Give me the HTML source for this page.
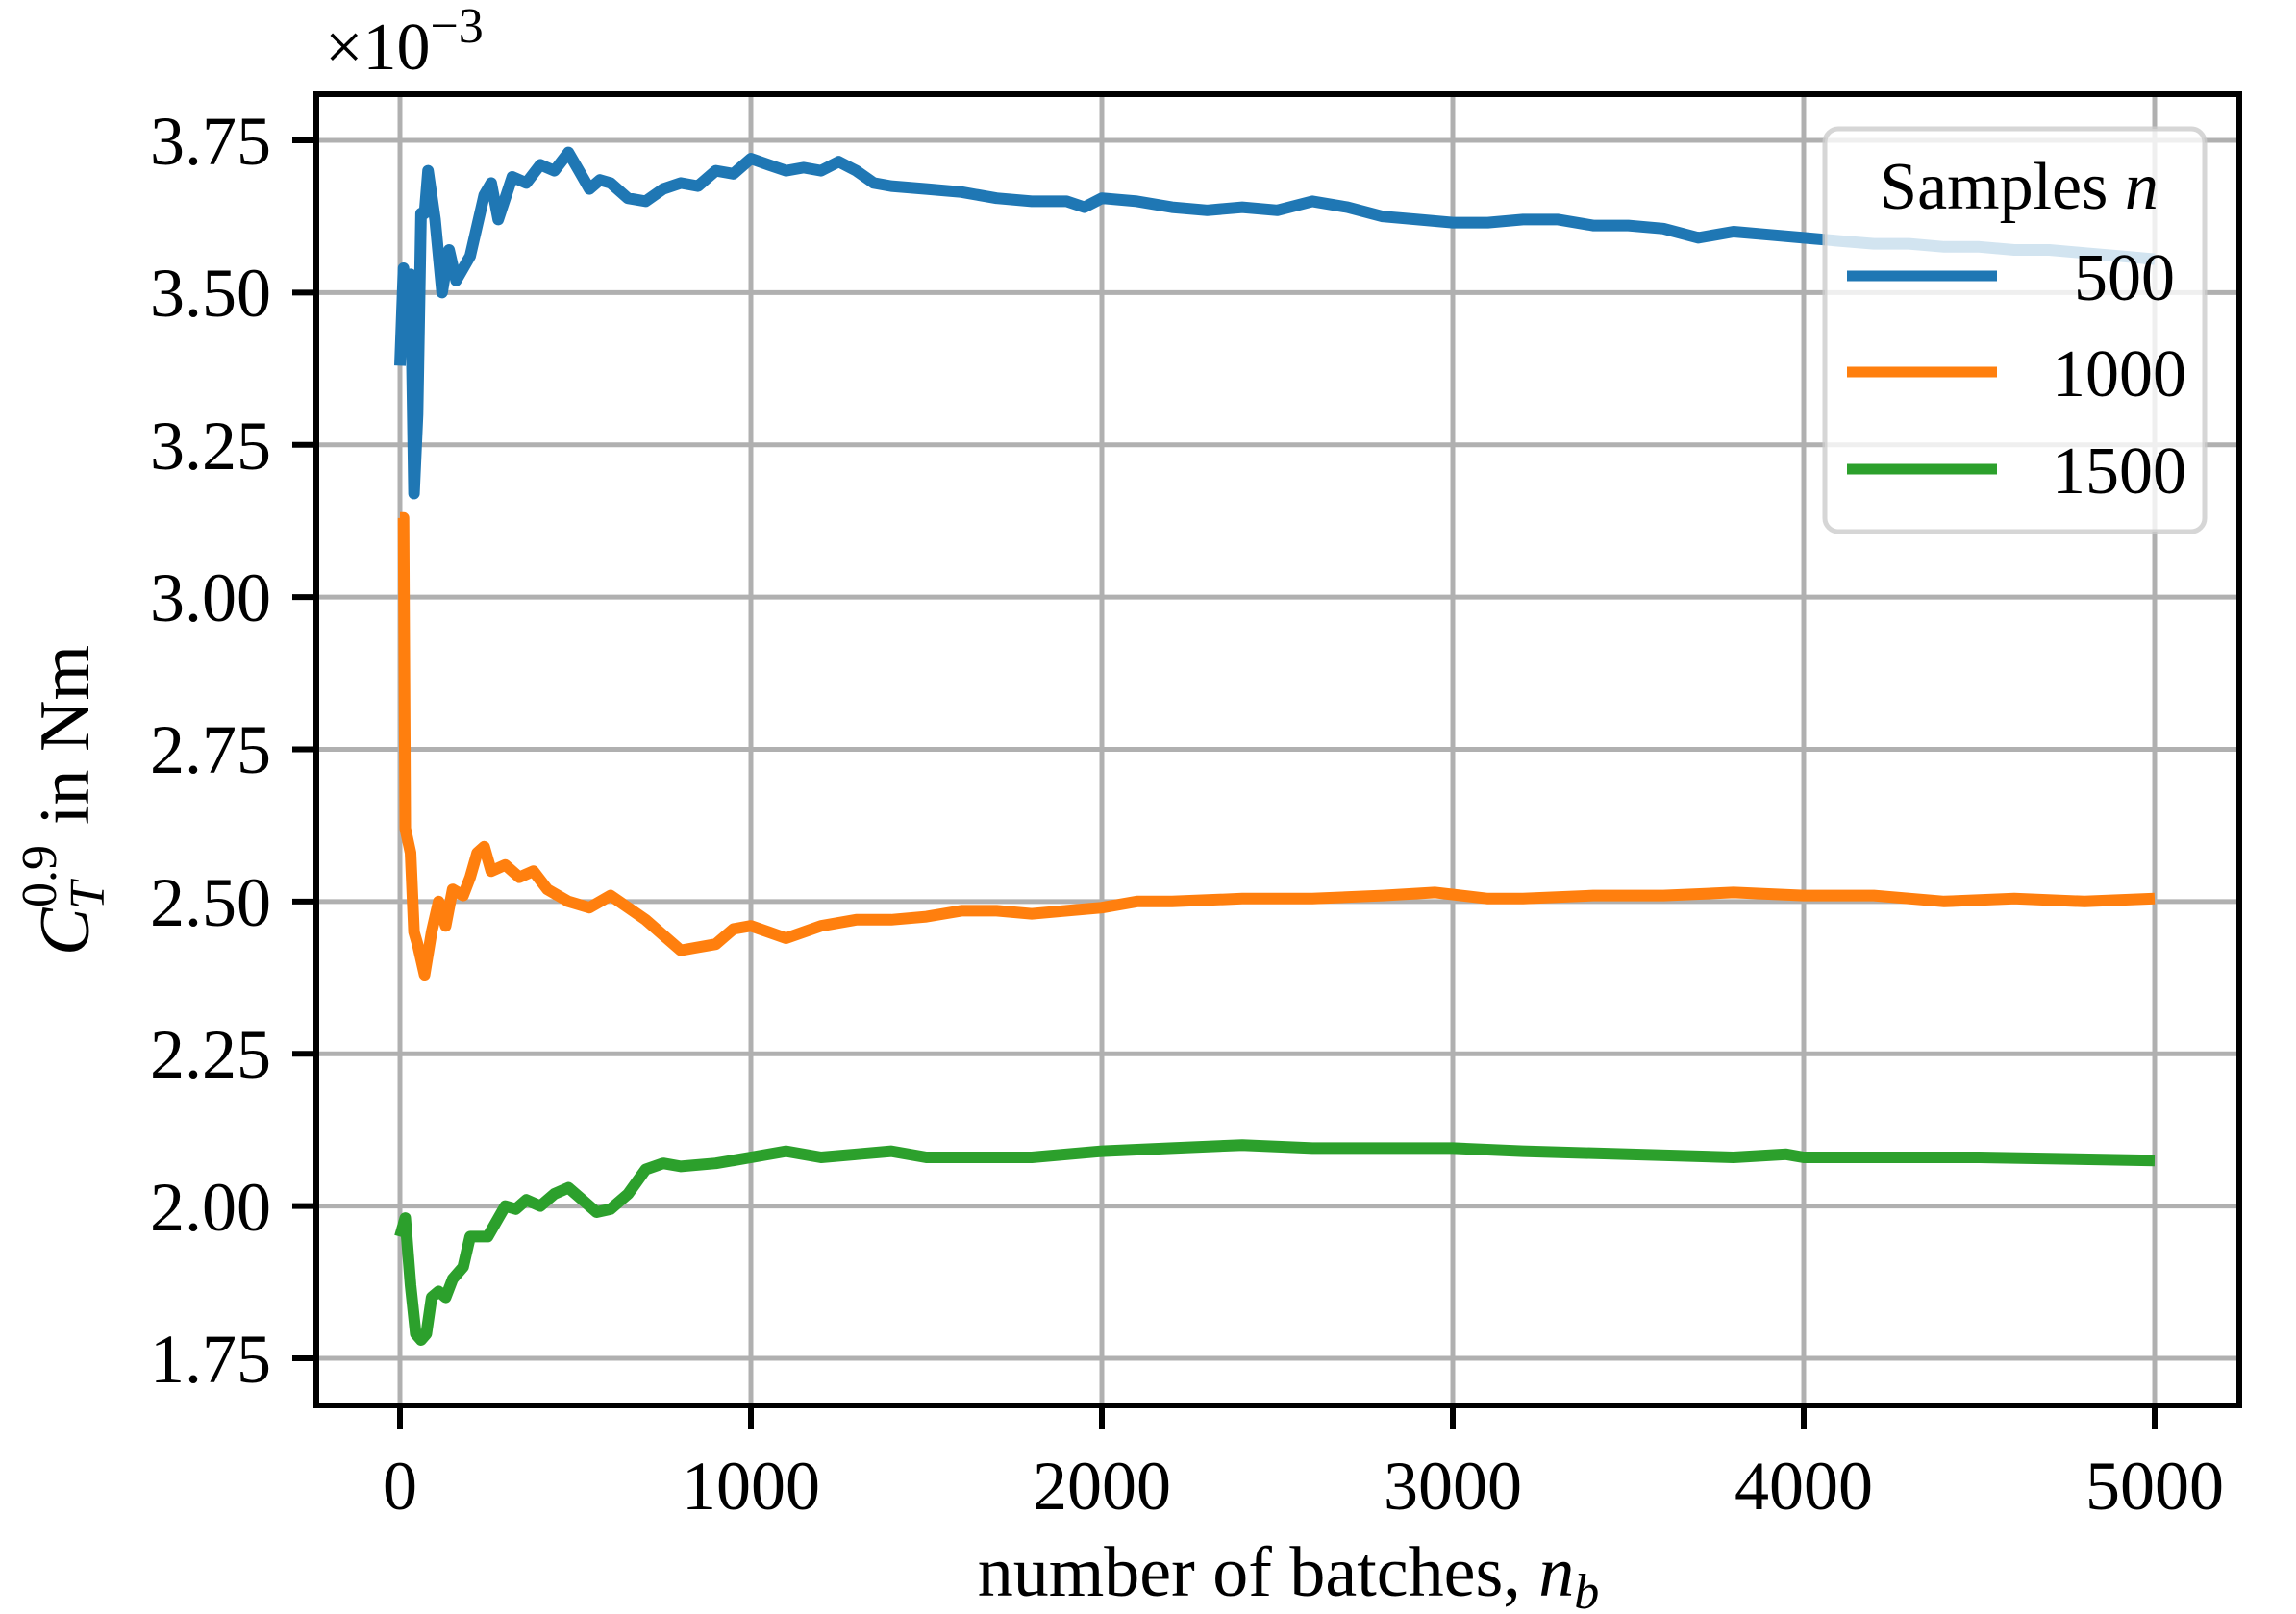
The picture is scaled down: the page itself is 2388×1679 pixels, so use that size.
<!DOCTYPE html>
<html><head><meta charset="utf-8"><style>html,body{margin:0;padding:0;background:#fff}svg{display:block}</style></head>
<body>
<svg width="2388" height="1679" viewBox="0 0 2388 1679" xmlns="http://www.w3.org/2000/svg" font-family="'Liberation Serif', serif">
<rect width="2388" height="1679" fill="#fff"/>
<g stroke="#b0b0b0" stroke-width="5">
<line x1="416" y1="98" x2="416" y2="1462"/><line x1="781" y1="98" x2="781" y2="1462"/><line x1="1146" y1="98" x2="1146" y2="1462"/><line x1="1511" y1="98" x2="1511" y2="1462"/><line x1="1876" y1="98" x2="1876" y2="1462"/><line x1="2241" y1="98" x2="2241" y2="1462"/>
<line x1="329" y1="146" x2="2329" y2="146"/><line x1="329" y1="304.4" x2="2329" y2="304.4"/><line x1="329" y1="462.8" x2="2329" y2="462.8"/><line x1="329" y1="621.1" x2="2329" y2="621.1"/><line x1="329" y1="779.5" x2="2329" y2="779.5"/><line x1="329" y1="937.9" x2="2329" y2="937.9"/><line x1="329" y1="1096.3" x2="2329" y2="1096.3"/><line x1="329" y1="1254.6" x2="2329" y2="1254.6"/><line x1="329" y1="1413" x2="2329" y2="1413"/>
</g>
<g fill="none" stroke-width="12" stroke-linejoin="round" transform="matrix(1 0 0 2 0 -146)">
<polyline vector-effect="non-scaling-stroke" stroke="#1f77b4" points="416,263.2 419.7,212.5 423.3,250.5 427,215.7 430.6,329.7 434.3,288.5 437.9,184 441.6,184 445.2,161.8 452.5,187.2 459.8,225.2 467.1,203 474.4,218.9 489,206.2 503.6,174.5 510.9,168.2 518.2,187.2 532.8,165 547.4,168.2 562,158.7 576.6,161.8 591.2,152.3 602.2,161.8 613.1,171.3 624,166.6 635,168.2 653,176.1 671.5,177.7 689.8,171.3 708,168.2 726,169.8 744.5,161.8 762.8,163.4 781,155.5 799.3,158.7 817.5,161.8 835.8,160.2 854,161.8 872.3,157.1 890.5,161.8 908.8,168.2 927,169.8 963.5,171.3 1000,172.9 1036.5,176.1 1073,177.7 1109.5,177.7 1127.8,180.8 1146,176.1 1182.5,177.7 1219,180.8 1255.5,182.4 1292,180.8 1328.5,182.4 1365,177.7 1401.5,180.8 1438,185.6 1474.5,187.2 1511,188.8 1547.5,188.8 1584,187.2 1620.5,187.2 1657,190.3 1693.5,190.3 1730,191.9 1766.5,196.7 1803,193.5 1839.5,195.1 1876,196.7 1912.5,198.3 1949,199.8 1985.5,199.8 2022,201.4 2058.5,201.4 2095,203 2131.5,203 2168,204.6 2204.5,206.2 2241,207.8"/>
<polyline vector-effect="non-scaling-stroke" stroke="#ff7f0e" points="416,342.4 419.7,342.4 421.5,503.9 427,516.6 430.6,557.8 434.3,564.1 441.6,580 448.9,557.8 456.2,541.9 463.5,554.6 470.8,535.6 481.7,538.8 489,529.3 496.3,516.6 503.6,513.4 510.9,526.1 525.5,522.9 540.1,529.3 554.7,526.1 569.3,535.6 591.2,541.9 613.1,545.1 635,538.8 653.3,545.1 671.5,551.4 689.8,559.4 708,567.3 726.3,565.7 744.5,564.1 762.8,556.2 781,554.6 799.3,557.8 817.5,561 854,554.6 890.5,551.4 927,551.4 963.5,549.8 1000,546.7 1036.5,546.7 1073,548.3 1109.5,546.7 1146,545.1 1182.5,541.9 1219,541.9 1292,540.4 1365,540.4 1438,538.8 1492.8,537.2 1547.5,540.4 1584,540.4 1657,538.8 1730,538.8 1803,537.2 1876,538.8 1949,538.8 2022,541.9 2095,540.4 2168,541.9 2241,540.4"/>
<polyline vector-effect="non-scaling-stroke" stroke="#2ca02c" points="416,716.2 421.5,706.6 427,741.5 432.4,766.8 437.9,770 443.4,766.8 448.9,747.8 456.2,744.7 463.5,747.8 470.8,738.3 481.7,732 489,716.2 507.3,716.2 525.5,700.3 536.5,701.9 547.4,697.1 562,700.3 576.6,694 591.2,690.8 605.8,697.1 620.4,703.5 635,701.9 653.3,694 671.5,681.3 689.8,678.1 708,679.7 744.5,678.1 781,675 817.5,671.8 854,675 890.5,673.4 927,671.8 963.5,675 1000,675 1073,675 1146,671.8 1219,670.2 1292,668.6 1365,670.2 1438,670.2 1511,670.2 1584,671.8 1693.5,673.4 1803,675 1857.8,673.4 1876,675 2058.5,675 2241,676.6"/>
</g>
<rect x="1898" y="134" width="395" height="419" rx="14" fill="#fff" fill-opacity="0.8" stroke="#cccccc" stroke-opacity="0.8" stroke-width="5"/>
<text x="2100" y="217" font-size="70" text-anchor="middle">Samples <tspan font-style="italic">n</tspan></text>
<line x1="1921" y1="287" x2="2077" y2="287" stroke="#1f77b4" stroke-width="11"/>
<line x1="1921" y1="387" x2="2077" y2="387" stroke="#ff7f0e" stroke-width="11"/>
<line x1="1921" y1="488" x2="2077" y2="488" stroke="#2ca02c" stroke-width="11"/>
<text x="2262" y="312" font-size="70" text-anchor="end">500</text>
<text x="2274" y="412" font-size="70" text-anchor="end">1000</text>
<text x="2274" y="513" font-size="70" text-anchor="end">1500</text>
<rect x="329" y="98" width="2000" height="1364" fill="none" stroke="#000" stroke-width="6"/>
<g stroke="#000" stroke-width="6">
<line x1="416" y1="1462" x2="416" y2="1487"/><line x1="781" y1="1462" x2="781" y2="1487"/><line x1="1146" y1="1462" x2="1146" y2="1487"/><line x1="1511" y1="1462" x2="1511" y2="1487"/><line x1="1876" y1="1462" x2="1876" y2="1487"/><line x1="2241" y1="1462" x2="2241" y2="1487"/>
<line x1="304" y1="146" x2="329" y2="146"/><line x1="304" y1="304.4" x2="329" y2="304.4"/><line x1="304" y1="462.8" x2="329" y2="462.8"/><line x1="304" y1="621.1" x2="329" y2="621.1"/><line x1="304" y1="779.5" x2="329" y2="779.5"/><line x1="304" y1="937.9" x2="329" y2="937.9"/><line x1="304" y1="1096.3" x2="329" y2="1096.3"/><line x1="304" y1="1254.6" x2="329" y2="1254.6"/><line x1="304" y1="1413" x2="329" y2="1413"/>
</g>
<g font-size="72" text-anchor="middle">
<text x="416" y="1570">0</text><text x="781" y="1570">1000</text><text x="1146" y="1570">2000</text><text x="1511" y="1570">3000</text><text x="1876" y="1570">4000</text><text x="2241" y="1570">5000</text>
</g>
<g font-size="72" text-anchor="end">
<text x="282" y="171">3.75</text><text x="282" y="329">3.50</text><text x="282" y="488">3.25</text><text x="282" y="646">3.00</text><text x="282" y="804">2.75</text><text x="282" y="963">2.50</text><text x="282" y="1121">2.25</text><text x="282" y="1280">2.00</text><text x="282" y="1438">1.75</text>
</g>
<text x="338" y="72" font-size="70">×10<tspan dy="-28" font-size="52">−3</tspan></text>
<text x="1340" y="1660" font-size="74" text-anchor="middle">number of batches, <tspan font-style="italic">n</tspan><tspan font-style="italic" font-size="52" dy="13">b</tspan></text>
<g transform="translate(92,798) rotate(-90)" font-size="74">
<text x="-196" y="0" font-style="italic">C</text>
<text x="-146" y="-34" font-size="52">0.9</text>
<text x="-148" y="16" font-size="52" font-style="italic">T</text>
<text x="-60" y="0">in Nm</text>
</g>
</svg>
</body></html>
